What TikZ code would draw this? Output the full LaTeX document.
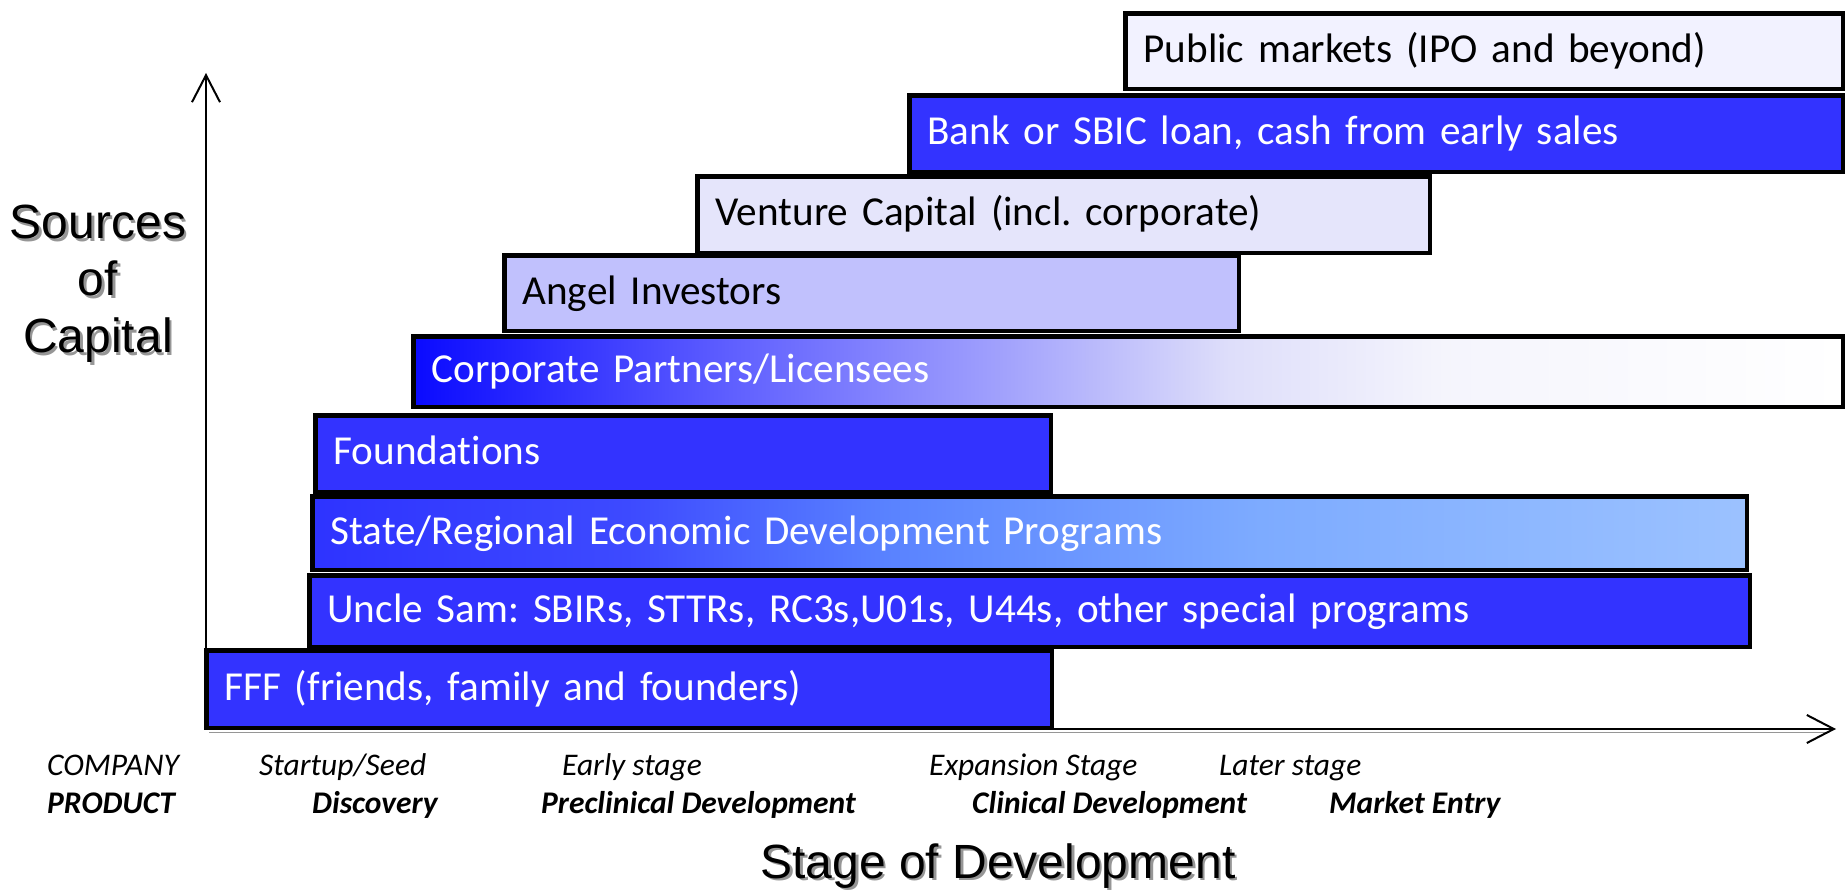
\documentclass[tikz,border=0pt]{standalone}
\usepackage{fontspec}
\setmainfont{Carlito}[Ligatures=NoCommon]
\newfontfamily\arialf{Liberation Sans}
\usetikzlibrary{arrows.meta}
\frenchspacing
\definecolor{fillblue}{RGB}{51,51,255}
\definecolor{publicfill}{RGB}{242,242,255}
\definecolor{venturefill}{RGB}{229,229,251}
\definecolor{angelfill}{RGB}{193,193,253}
\definecolor{shadowgray}{RGB}{150,150,150}
\pgfdeclarehorizontalshading{corpshade}{100bp}{rgb(0bp)=(0.04,0.04,1); rgb(25bp)=(0.04,0.04,1); rgb(36bp)=(0.37,0.37,1); rgb(45.5bp)=(0.63,0.63,0.99); rgb(53.5bp)=(0.87,0.87,0.98); rgb(61bp)=(0.96,0.96,0.99); rgb(75bp)=(1,1,1); rgb(100bp)=(1,1,1)}
\pgfdeclarehorizontalshading{stateshade}{100bp}{rgb(0bp)=(0.18,0.2,1); rgb(25bp)=(0.18,0.2,1); rgb(36bp)=(0.24,0.29,1); rgb(45bp)=(0.35,0.51,1); rgb(58bp)=(0.49,0.67,1); rgb(75bp)=(0.61,0.76,1); rgb(100bp)=(0.61,0.76,1)}
\tikzset{
  srcbox/.style={draw=black, line width=4.5pt, anchor=north west, inner xsep=18pt, inner ysep=0pt,
    align=left, text height=30pt, text depth=8pt, font=\fontsize{41.2}{50}\selectfont},
  darkbox/.style={srcbox, text=white},
  lightbox/.style={srcbox, text=black},
  axisline/.style={line width=2pt, draw=black, -{Straight Barb[length=27pt,width=28pt,line width=2pt]}},
  stagelbl/.style={anchor=base west, inner sep=0pt, font=\fontsize{31.5}{38}\selectfont\itshape},
  prodlbl/.style={anchor=base west, inner sep=0pt, font=\fontsize{31.5}{38}\selectfont\bfseries\itshape},
  axtitle/.style={inner sep=0pt, align=center, font=\arialf\fontsize{48}{57}\selectfont},
}
\begin{document}
\begin{tikzpicture}[x=1pt,y=-1pt]
\useasboundingbox (0,0) rectangle (1845,893);
% axes
\coordinate (o) at (206,729);
\coordinate (ytip) at (206,73);
\coordinate (xtip) at (1836,729);
\coordinate (sh1) at (209,732.5);
\coordinate (sh2) at (1828,732.5);
\draw[shadowgray, line width=1.5pt] (sh1) -- (sh2);
\draw[axisline] (o) -- (ytip);
\draw[axisline] (o) -- (xtip);
% boxes
\node[lightbox, fill=publicfill, minimum width=717.5pt, minimum height=75.5pt, text width=681.5pt] (pub) at (1123.25,11.25) {Public markets (IPO and beyond)};
\node[darkbox, fill=fillblue, minimum width=933.5pt, minimum height=76.5pt, text width=897.5pt] (bank) at (907.25,93.25) {Bank or SBIC loan, cash from early sales};
\node[lightbox, fill=venturefill, minimum width=732.5pt, minimum height=76.5pt, text width=696.5pt] (vc) at (695.25,174.25) {Venture Capital (incl. corporate)};
\node[lightbox, fill=angelfill, minimum width=734.5pt, minimum height=75.5pt, text width=698.5pt] (angel) at (502.25,253.25) {Angel Investors};
\node[darkbox, shading=corpshade, minimum width=1429.5pt, minimum height=70.5pt, text width=1393.5pt] (corp) at (411.25,334.25) {Corporate Partners/Licensees};
\node[darkbox, fill=fillblue, minimum width=735.5pt, minimum height=76.5pt, text width=699.5pt] (found) at (313.25,413.25) {Foundations};
\node[darkbox, shading=stateshade, minimum width=1434.5pt, minimum height=73.5pt, text width=1398.5pt] (state) at (310.25,494.25) {State/Regional Economic Development Programs};
\node[darkbox, fill=fillblue, minimum width=1440.5pt, minimum height=71.5pt, text width=1404.5pt] (sam) at (307.25,573.25) {Uncle Sam: SBIRs, STTRs, RC3s,U01s, U44s, other special programs};
\node[darkbox, fill=fillblue, minimum width=845.5pt, minimum height=77.5pt, text width=809.5pt] (fff) at (204.25,648.25) {FFF (friends, family and founders)};
% stage labels
\node[stagelbl] (company) at (47,775) {COMPANY};
\node[stagelbl] (seed) at (259,775) {Startup/Seed};
\node[stagelbl] (early) at (562,775) {Early stage};
\node[stagelbl] (expan) at (929,775) {Expansion Stage};
\node[stagelbl] (later) at (1219,775) {Later stage};
\node[prodlbl] (product) at (47,813) {PRODUCT};
\node[prodlbl] (disc) at (312,813) {Discovery};
\node[prodlbl] (precl) at (541,813) {Preclinical Development};
\node[prodlbl] (clin) at (972,813) {Clinical Development};
\node[prodlbl] (market) at (1329,813) {Market Entry};
% axis titles with shadow
\node[axtitle, text=shadowgray, anchor=north] (srcsh) at (100.5,207.5) {Sources\\of\\Capital};
\node[axtitle, anchor=north] (src) at (98,205) {Sources\\of\\Capital};
\node[axtitle, text=shadowgray, anchor=base] (stagesh) at (1000.5,880.5) {Stage of Development};
\node[axtitle, anchor=base] (stage) at (998,878) {Stage of Development};
\end{tikzpicture}
\end{document}
